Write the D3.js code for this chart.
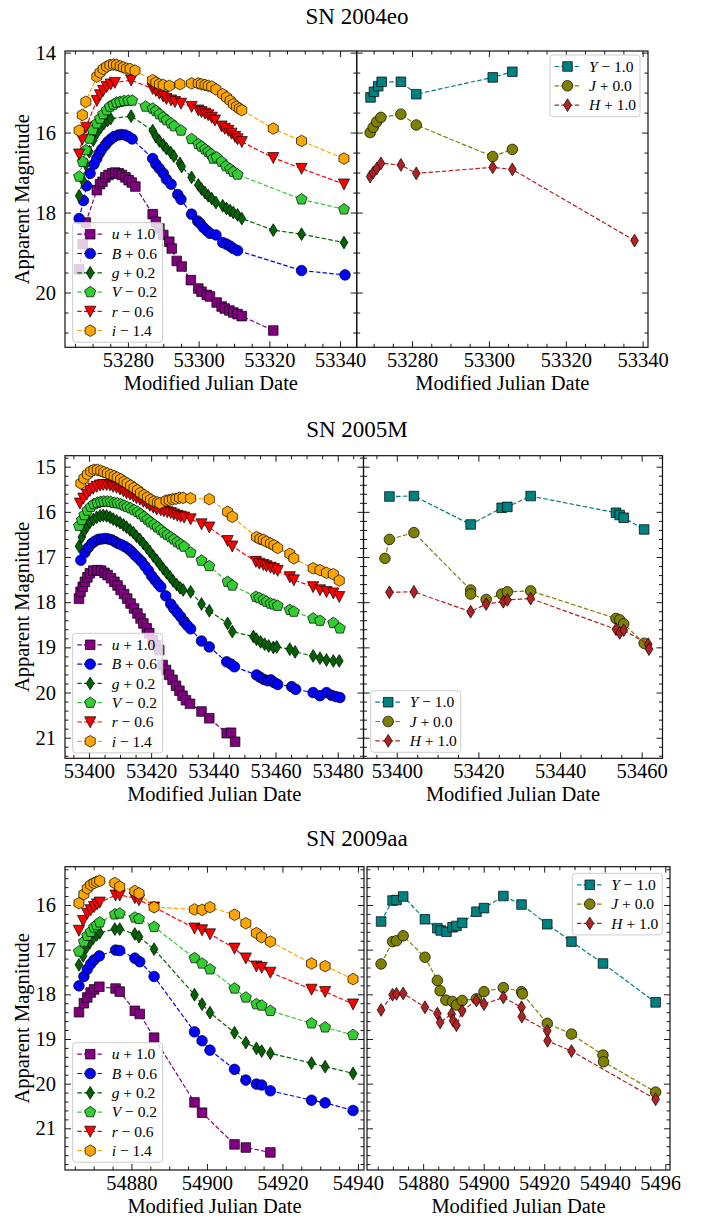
<!DOCTYPE html>
<html>
<head>
<meta charset="utf-8">
<script src="https://cdn.jsdelivr.net/npm/d3@7"></script>
<style>
  body { margin: 0; background: #fff; }
  svg text { font-family: "Liberation Serif", "Times New Roman", serif; fill: #000; }
</style>
</head>
<body>
<svg id="fig" width="707" height="1218"></svg>
<script>
// ---------------------------------------------------------------
// Photometry: [MJD, apparent magnitude] for each filter.
// Plotted with the per-filter offsets listed below.
// ---------------------------------------------------------------
const opticalBands = ["u", "B", "g", "V", "r", "i"];
const opticalOffsets = [1.0, 0.6, 0.2, -0.2, -0.6, -1.4];
const nirBands = ["Y", "J", "H"];
const nirOffsets = [-1.0, 0.0, 1.0];

// SN 2004eo
const sn2004eo_u = [[53266.2,18.42],[53267.2,17.79],[53268.1,17.25],[53271.2,16.44],[53272.1,16.29],[53272.8,16.23],[53273.6,16.12],[53274.5,16.06],[53275.5,16.02],[53276.4,16.00],[53277.4,16.02],[53278.3,16.06],[53279.3,16.12],[53280.2,16.19],[53281.1,16.25],[53282.1,16.35],[53287.0,17.04],[53287.9,17.23],[53288.9,17.40],[53290.0,17.56],[53291.7,17.73],[53292.4,17.90],[53293.8,18.21],[53295.2,18.35],[53297.8,18.69],[53299.9,18.90],[53300.8,18.98],[53302.3,19.06],[53303.2,19.10],[53305.1,19.25],[53306.5,19.35],[53307.4,19.40],[53308.7,19.45],[53309.8,19.50],[53311.0,19.54],[53312.2,19.59],[53321.1,19.95]];
const sn2004eo_B = [[53266.2,17.55],[53267.4,17.10],[53268.3,16.73],[53269.3,16.42],[53270.4,16.19],[53271.2,16.05],[53271.9,15.92],[53272.6,15.82],[53273.6,15.71],[53274.3,15.63],[53275.2,15.56],[53276.1,15.50],[53277.3,15.46],[53278.2,15.45],[53279.2,15.46],[53280.1,15.50],[53281.2,15.56],[53287.0,16.05],[53287.9,16.19],[53288.9,16.30],[53290.0,16.42],[53290.9,16.57],[53292.2,16.69],[53294.1,16.95],[53295.0,17.07],[53298.0,17.44],[53299.7,17.61],[53300.4,17.67],[53301.3,17.77],[53302.3,17.85],[53303.2,17.92],[53304.9,17.96],[53306.8,18.15],[53307.9,18.19],[53308.9,18.24],[53309.8,18.30],[53311.0,18.35],[53329.1,18.85],[53341.4,18.96]];
const sn2004eo_g = [[53266.2,17.38],[53267.2,16.99],[53268.1,16.59],[53269.1,16.28],[53270.2,15.99],[53271.3,15.80],[53272.3,15.67],[53273.2,15.57],[53274.2,15.50],[53275.1,15.45],[53280.9,15.39],[53287.0,15.75],[53287.9,15.90],[53288.9,16.01],[53290.0,16.11],[53290.9,16.20],[53292.1,16.30],[53293.0,16.39],[53294.7,16.57],[53295.2,16.65],[53298.0,16.92],[53299.9,17.11],[53300.8,17.21],[53301.8,17.30],[53302.7,17.38],[53303.7,17.45],[53304.9,17.55],[53306.8,17.63],[53307.9,17.70],[53308.9,17.75],[53309.8,17.80],[53311.0,17.86],[53312.2,17.95],[53321.1,18.24],[53329.1,18.34],[53341.1,18.55]];
const sn2004eo_V = [[53266.2,17.30],[53267.2,16.93],[53268.1,16.64],[53269.1,16.35],[53270.0,16.14],[53271.2,15.97],[53272.1,15.85],[53273.0,15.74],[53274.0,15.64],[53274.9,15.55],[53275.9,15.50],[53276.8,15.45],[53277.8,15.43],[53278.9,15.41],[53280.1,15.40],[53281.2,15.40],[53285.0,15.55],[53287.0,15.60],[53287.9,15.66],[53288.9,15.74],[53290.0,15.82],[53290.9,15.89],[53292.2,15.97],[53293.1,16.04],[53295.0,16.15],[53298.0,16.36],[53299.9,16.49],[53300.8,16.55],[53301.8,16.62],[53302.7,16.68],[53303.5,16.74],[53304.1,16.85],[53305.1,16.82],[53306.5,16.93],[53307.7,17.04],[53308.9,17.11],[53309.8,17.18],[53311.0,17.25],[53329.1,17.87],[53341.1,18.12]];
const sn2004eo_r = [[53266.2,17.14],[53267.1,16.77],[53268.1,16.47],[53271.2,15.80],[53272.1,15.66],[53273.0,15.55],[53274.0,15.45],[53275.1,15.39],[53276.3,15.35],[53280.9,15.29],[53287.0,15.50],[53287.9,15.55],[53288.9,15.62],[53290.0,15.69],[53290.9,15.75],[53292.2,15.79],[53293.3,15.83],[53295.0,15.87],[53298.0,15.95],[53299.9,16.04],[53300.8,16.08],[53301.8,16.12],[53302.7,16.16],[53303.7,16.22],[53304.6,16.29],[53306.5,16.44],[53307.4,16.50],[53308.4,16.55],[53309.3,16.62],[53310.3,16.70],[53311.0,16.76],[53312.2,16.83],[53321.1,17.23],[53329.1,17.50],[53341.1,17.89]];
const sn2004eo_i = [[53266.2,17.35],[53267.1,16.96],[53268.1,16.63],[53271.2,16.00],[53272.1,15.90],[53273.0,15.81],[53274.0,15.75],[53274.9,15.71],[53275.9,15.70],[53276.8,15.71],[53277.8,15.74],[53278.7,15.77],[53279.6,15.80],[53280.6,15.81],[53282.0,15.85],[53287.0,16.09],[53287.9,16.15],[53288.9,16.19],[53290.0,16.21],[53291.7,16.23],[53294.7,16.19],[53298.0,16.17],[53299.9,16.17],[53300.8,16.19],[53301.8,16.21],[53302.7,16.23],[53303.7,16.25],[53304.9,16.32],[53306.8,16.44],[53307.9,16.52],[53308.9,16.60],[53309.8,16.69],[53310.7,16.75],[53311.5,16.80],[53312.2,16.84],[53321.1,17.30],[53329.1,17.61],[53341.1,18.05]];
const sn2004eo_Y = [[53269.2,16.12],[53270.1,15.98],[53271.2,15.84],[53272.1,15.73],[53277.1,15.73],[53281.1,16.04],[53301.0,15.62],[53306.1,15.48]];
const sn2004eo_J = [[53269.1,16.00],[53269.9,15.87],[53270.8,15.73],[53271.9,15.62],[53277.1,15.54],[53281.1,15.81],[53301.0,16.60],[53306.1,16.42]];
const sn2004eo_H = [[53269.1,16.10],[53269.9,16.00],[53270.8,15.90],[53271.9,15.77],[53277.1,15.81],[53281.1,16.02],[53301.0,15.87],[53306.1,15.92],[53337.9,17.70]];

// SN 2005M
const sn2005M_u = [[53396.8,16.92],[53397.3,16.77],[53398.0,16.66],[53398.7,16.55],[53399.5,16.45],[53400.3,16.36],[53401.4,16.30],[53402.7,16.29],[53403.9,16.30],[53405.0,16.35],[53406.0,16.40],[53407.1,16.47],[53408.2,16.55],[53409.2,16.63],[53410.2,16.73],[53411.3,16.82],[53412.3,16.92],[53413.4,17.03],[53414.5,17.14],[53415.6,17.25],[53416.6,17.36],[53417.5,17.47],[53418.6,17.58],[53419.4,17.69],[53420.5,17.84],[53421.6,17.95],[53422.6,18.06],[53423.7,18.39],[53424.8,18.50],[53425.8,18.61],[53426.9,18.72],[53428.0,18.85],[53429.1,18.96],[53430.1,19.07],[53431.2,19.17],[53432.5,19.25],[53436.2,19.42],[53438.7,19.57],[53444.3,19.90],[53445.7,19.89],[53447.0,20.09]];
const sn2005M_B = [[53397.4,16.47],[53398.7,16.30],[53399.8,16.19],[53400.9,16.10],[53401.9,16.05],[53403.0,16.01],[53404.1,16.00],[53405.2,15.99],[53406.2,16.00],[53407.3,16.02],[53408.4,16.06],[53409.4,16.10],[53410.5,16.13],[53411.6,16.17],[53412.7,16.22],[53413.7,16.28],[53414.8,16.36],[53415.9,16.43],[53416.9,16.50],[53418.0,16.60],[53419.1,16.70],[53420.2,16.82],[53421.2,16.91],[53422.3,17.00],[53423.1,17.06],[53424.7,17.26],[53426.3,17.44],[53427.3,17.54],[53428.4,17.63],[53429.5,17.72],[53430.6,17.83],[53431.6,17.91],[53432.7,17.99],[53436.2,18.26],[53438.7,18.39],[53444.3,18.72],[53445.7,18.77],[53446.8,18.83],[53453.9,19.01],[53455.0,19.06],[53456.3,19.11],[53457.5,19.14],[53458.5,19.12],[53459.6,19.18],[53460.7,19.22],[53465.2,19.27],[53466.5,19.33],[53472.1,19.40],[53474.3,19.47],[53476.4,19.40],[53478.0,19.46],[53479.4,19.49],[53480.7,19.51]];
const sn2005M_g = [[53396.8,16.56],[53397.7,16.36],[53398.5,16.22],[53399.5,16.11],[53400.3,16.03],[53401.4,15.97],[53402.5,15.92],[53403.6,15.89],[53404.6,15.88],[53405.7,15.89],[53406.8,15.92],[53407.8,15.96],[53408.9,16.00],[53410.0,16.04],[53411.1,16.09],[53412.1,16.14],[53413.2,16.20],[53414.3,16.26],[53415.3,16.34],[53416.4,16.41],[53417.5,16.50],[53418.6,16.59],[53419.6,16.68],[53420.7,16.78],[53421.8,16.87],[53422.8,16.96],[53423.9,17.06],[53425.0,17.15],[53426.1,17.24],[53427.1,17.33],[53428.2,17.41],[53429.3,17.48],[53430.3,17.53],[53432.7,17.57],[53436.2,17.84],[53438.7,17.99],[53444.6,18.27],[53446.1,18.45],[53452.9,18.56],[53453.9,18.62],[53455.2,18.68],[53456.5,18.73],[53457.8,18.77],[53459.3,18.80],[53460.4,18.79],[53464.6,18.84],[53466.3,18.90],[53472.1,18.99],[53474.3,19.04],[53476.4,19.08],[53478.6,19.10],[53480.5,19.10]];
const sn2005M_V = [[53396.8,16.51],[53397.7,16.38],[53398.5,16.27],[53399.5,16.17],[53400.6,16.09],[53401.6,16.03],[53402.7,16.00],[53403.8,15.98],[53404.8,15.97],[53405.9,15.97],[53407.0,15.98],[53408.1,16.00],[53409.1,16.01],[53410.2,16.03],[53411.3,16.06],[53412.3,16.09],[53413.4,16.12],[53414.5,16.16],[53415.6,16.20],[53416.6,16.25],[53417.7,16.31],[53418.8,16.37],[53419.8,16.43],[53420.9,16.48],[53422.0,16.54],[53423.1,16.60],[53424.1,16.66],[53425.2,16.71],[53426.3,16.76],[53427.3,16.81],[53428.4,16.87],[53429.5,16.92],[53430.6,16.97],[53432.7,17.10],[53436.2,17.28],[53438.7,17.40],[53444.6,17.75],[53446.1,17.83],[53453.7,18.08],[53454.8,18.11],[53456.1,18.15],[53457.1,18.19],[53458.4,18.23],[53459.5,18.25],[53460.7,18.28],[53464.6,18.37],[53465.9,18.41],[53472.1,18.56],[53474.3,18.61],[53478.6,18.66],[53480.7,18.78]];
const sn2005M_r = [[53397.1,16.41],[53398.2,16.30],[53399.3,16.21],[53400.3,16.13],[53401.4,16.08],[53402.5,16.04],[53403.6,16.01],[53404.6,16.00],[53405.7,16.00],[53406.8,16.01],[53407.8,16.04],[53408.9,16.06],[53410.0,16.10],[53411.1,16.14],[53412.1,16.18],[53413.2,16.21],[53414.3,16.25],[53415.3,16.29],[53416.4,16.32],[53417.5,16.37],[53418.6,16.41],[53419.6,16.46],[53420.7,16.50],[53421.8,16.54],[53423.1,16.56],[53424.1,16.58],[53425.2,16.60],[53426.3,16.62],[53427.3,16.65],[53428.4,16.68],[53429.5,16.70],[53430.6,16.72],[53432.7,16.76],[53436.2,16.87],[53438.7,16.94],[53444.6,17.24],[53446.1,17.36],[53453.7,17.70],[53454.8,17.74],[53456.1,17.77],[53457.1,17.80],[53458.4,17.83],[53459.5,17.86],[53460.7,17.90],[53464.6,18.04],[53465.9,18.11],[53472.1,18.26],[53474.3,18.33],[53476.4,18.37],[53478.6,18.40],[53480.5,18.48]];
const sn2005M_i = [[53397.4,16.77],[53398.4,16.66],[53399.5,16.57],[53400.6,16.50],[53401.6,16.47],[53402.7,16.47],[53403.8,16.49],[53404.8,16.52],[53405.9,16.55],[53407.0,16.58],[53408.1,16.61],[53409.1,16.64],[53410.2,16.68],[53411.3,16.73],[53412.3,16.77],[53413.4,16.82],[53414.5,16.87],[53415.6,16.92],[53416.6,16.98],[53417.7,17.03],[53418.8,17.08],[53419.8,17.13],[53420.9,17.17],[53422.0,17.19],[53422.8,17.21],[53424.8,17.15],[53425.8,17.14],[53426.9,17.12],[53428.0,17.11],[53429.1,17.09],[53430.3,17.09],[53432.7,17.10],[53438.7,17.12],[53444.6,17.40],[53446.1,17.51],[53453.9,17.96],[53455.0,18.00],[53456.1,18.02],[53457.1,18.06],[53458.4,18.10],[53459.5,18.14],[53460.7,18.20],[53464.6,18.33],[53465.9,18.43],[53472.1,18.65],[53474.3,18.69],[53476.4,18.75],[53478.6,18.78],[53480.5,18.92]];
const sn2005M_Y = [[53398.2,16.66],[53404.2,16.65],[53418.1,17.28],[53425.7,16.91],[53427.1,16.89],[53432.8,16.65],[53453.7,17.02],[53454.6,17.07],[53455.6,17.13],[53460.6,17.39]];
const sn2005M_J = [[53397.1,17.03],[53398.2,16.61],[53404.2,16.46],[53418.1,17.73],[53418.1,17.82],[53421.9,17.94],[53425.7,17.82],[53427.1,17.77],[53432.8,17.75],[53453.7,18.36],[53454.6,18.39],[53455.6,18.48],[53460.6,18.91]];
const sn2005M_H = [[53398.2,16.78],[53404.2,16.77],[53418.1,17.21],[53421.9,17.04],[53426.1,16.99],[53427.1,16.95],[53432.8,16.92],[53453.7,17.60],[53454.6,17.68],[53455.6,17.62],[53461.6,17.93],[53461.8,18.04]];

// SN 2009aa
const sn2009aa_u = [[54866.1,17.40],[54867.4,17.20],[54868.3,17.07],[54869.2,16.96],[54870.1,16.89],[54871.5,16.83],[54875.8,16.87],[54876.9,16.94],[54880.9,17.37],[54882.2,17.44],[54886.0,17.97],[54896.7,19.42],[54898.7,19.65],[54907.3,20.36],[54910.3,20.43],[54916.8,20.54]];
const sn2009aa_B = [[54866.1,17.21],[54867.4,17.00],[54868.3,16.84],[54869.2,16.72],[54870.1,16.63],[54871.5,16.54],[54875.8,16.41],[54876.9,16.42],[54880.9,16.59],[54882.2,16.67],[54886.0,17.00],[54896.7,18.24],[54898.7,18.44],[54900.8,18.65],[54907.3,19.08],[54910.3,19.32],[54913.1,19.41],[54914.5,19.43],[54916.8,19.56],[54927.7,19.77],[54931.3,19.83],[54938.7,20.00]];
const sn2009aa_g = [[54866.1,17.14],[54867.2,16.94],[54868.1,16.75],[54869.0,16.64],[54869.9,16.54],[54870.8,16.47],[54871.6,16.42],[54875.6,16.34],[54876.9,16.34],[54880.9,16.45],[54882.0,16.51],[54886.0,16.79],[54896.7,17.81],[54898.7,18.02],[54900.8,18.21],[54907.3,18.66],[54910.3,18.88],[54913.1,19.01],[54914.5,19.07],[54916.8,19.12],[54927.7,19.34],[54931.3,19.42],[54938.7,19.57]];
const sn2009aa_V = [[54866.1,17.24],[54867.4,17.02],[54868.3,16.89],[54869.2,16.80],[54870.1,16.70],[54870.8,16.65],[54871.6,16.59],[54875.6,16.41],[54876.9,16.39],[54880.9,16.48],[54882.0,16.51],[54886.0,16.69],[54896.7,17.39],[54898.7,17.51],[54900.8,17.64],[54907.3,18.07],[54910.3,18.27],[54913.1,18.42],[54914.5,18.45],[54916.8,18.57],[54927.7,18.85],[54931.3,18.94],[54938.7,19.11]];
const sn2009aa_r = [[54866.1,17.17],[54867.2,16.95],[54868.3,16.79],[54869.2,16.71],[54870.1,16.64],[54870.9,16.58],[54871.6,16.54],[54875.8,16.38],[54876.9,16.38],[54880.9,16.44],[54882.0,16.49],[54886.0,16.65],[54896.7,17.12],[54898.7,17.16],[54900.8,17.25],[54907.3,17.57],[54910.3,17.79],[54913.1,17.97],[54914.5,18.00],[54916.8,18.11],[54927.7,18.49],[54931.3,18.54],[54938.7,18.82]];
const sn2009aa_i = [[54866.1,17.36],[54867.4,17.16],[54868.3,17.03],[54869.2,16.95],[54870.1,16.91],[54870.8,16.88],[54871.6,16.86],[54875.6,16.91],[54876.9,16.99],[54880.9,17.09],[54882.0,17.14],[54886.0,17.45],[54896.7,17.50],[54898.7,17.51],[54900.8,17.45],[54907.3,17.62],[54910.3,17.81],[54913.1,18.03],[54914.5,18.12],[54916.8,18.22],[54927.7,18.71],[54931.3,18.77],[54938.7,19.06]];
const sn2009aa_Y = [[54866.1,17.37],[54869.9,16.90],[54871.2,16.89],[54873.4,16.81],[54880.6,17.32],[54884.7,17.52],[54885.8,17.57],[54887.7,17.60],[54889.7,17.50],[54891.0,17.47],[54892.9,17.40],[54897.6,17.15],[54900.1,17.07],[54906.5,16.80],[54912.5,16.99],[54921.0,17.43],[54929.0,17.82],[54939.4,18.31],[54956.8,19.18]];
const sn2009aa_J = [[54866.1,17.32],[54869.9,16.82],[54871.2,16.80],[54873.4,16.69],[54880.6,17.17],[54884.7,17.69],[54885.6,17.92],[54887.5,18.13],[54889.7,18.16],[54891.0,18.24],[54892.9,18.14],[54897.6,18.10],[54900.1,17.94],[54906.5,17.85],[54912.5,17.94],[54912.8,17.99],[54921.0,18.65],[54929.0,18.89],[54939.4,19.36],[54939.6,19.51],[54956.8,20.19]];
const sn2009aa_H = [[54866.1,17.35],[54869.9,17.01],[54871.2,16.99],[54873.4,16.98],[54880.6,17.29],[54884.7,17.43],[54885.6,17.63],[54889.4,17.44],[54889.9,17.59],[54891.0,17.69],[54892.9,17.37],[54897.6,17.14],[54900.1,17.22],[54906.5,17.07],[54912.5,17.29],[54912.6,17.50],[54921.0,17.82],[54921.1,18.04],[54929.0,18.27],[54956.8,19.35]];

const supernovae = ["SN 2004eo", "SN 2005M", "SN 2009aa"];
const opticalData = [
  [sn2004eo_u, sn2004eo_B, sn2004eo_g, sn2004eo_V, sn2004eo_r, sn2004eo_i],
  [sn2005M_u, sn2005M_B, sn2005M_g, sn2005M_V, sn2005M_r, sn2005M_i],
  [sn2009aa_u, sn2009aa_B, sn2009aa_g, sn2009aa_V, sn2009aa_r, sn2009aa_i]
];
const nirData = [
  [sn2004eo_Y, sn2004eo_J, sn2004eo_H],
  [sn2005M_Y, sn2005M_J, sn2005M_H],
  [sn2009aa_Y, sn2009aa_J, sn2009aa_H]
];
const xLabel = "Modified Julian Date";
const yLabel = "Apparent Magnitude";

// ---------------------------------------------------------------
// Appearance
// ---------------------------------------------------------------
const bandStyle = {
  u: { color: "#800080", shape: "square" },
  B: { color: "#0000ff", shape: "circle" },
  g: { color: "#006400", shape: "thin_diamond" },
  V: { color: "#32cd32", shape: "pentagon" },
  r: { color: "#ff0000", shape: "triangle_down" },
  i: { color: "#ffa500", shape: "hexagon" },
  Y: { color: "#008080", shape: "square" },
  J: { color: "#808000", shape: "circle" },
  H: { color: "#b22222", shape: "thin_diamond" }
};

// Panel geometry for each row (pixels) and axis limits
const rows = [
  { titleY: 24, top: 51, bottom: 347.3, yDom: [13.96, 21.37], yMajor: 2, yMinor: 0.5,
    left:  { x0: 65,    x1: 356.7, xDom: [53262.2, 53344.7], legend: [72.7, 222.7] },
    right: { x0: 356.7, x1: 648,   xDom: [53265.6, 53341.4], legend: [550, 55] } },
  { titleY: 437, top: 455.7, bottom: 758.3, yDom: [14.757, 21.456], yMajor: 1, yMinor: 0.2,
    left:  { x0: 65,    x1: 363.5, xDom: [53392.3, 53488.3], legend: [72.7, 633.3] },
    right: { x0: 363.5, x1: 662.5, xDom: [53391.85, 53465.1], legend: [370.7, 690.7] } },
  { titleY: 846, top: 866.7, bottom: 1170, yDom: [15.143, 21.933], yMajor: 1, yMinor: 0.2,
    left:  { x0: 65,    x1: 364,   xDom: [54862.4, 54941.6], legend: [72.7, 1042.7] },
    right: { x0: 367,   x1: 670,   xDom: [54861.45, 54961.55], legend: [572.3, 873.3] } }
];

const tickFont = 20.5;
const labelFont = 20.5;

const svg = d3.select("#fig");
const defs = svg.append("defs");
defs.append("clipPath").attr("id", "figure-bounds")
  .append("rect").attr("x", 0).attr("y", 0).attr("width", 680.5).attr("height", 1218);
const fig = svg.append("g").attr("clip-path", "url(#figure-bounds)");

function markerPath(shape) {
  const poly = (n, r, rot) => {
    const pts = d3.range(n).map(k => {
      const a = rot + k * 2 * Math.PI / n;
      return [r * Math.cos(a), r * Math.sin(a)];
    });
    return "M" + pts.map(p => p[0].toFixed(2) + "," + p[1].toFixed(2)).join("L") + "Z";
  };
  switch (shape) {
    case "square": return "M-4.8,-4.8H4.8V4.8H-4.8Z";
    case "circle": return d3.symbol(d3.symbolCircle, Math.PI * 5.3 * 5.3)();
    case "thin_diamond": return "M0,-6.4L3.9,0L0,6.4L-3.9,0Z";
    case "pentagon": return poly(5, 5.8, -Math.PI / 2);
    case "triangle_down": return "M-5.6,-5.2L5.6,-5.2L0,5.8Z";
    case "hexagon": return poly(6, 5.8, -Math.PI / 2);
  }
}

function stepValues(lo, hi, step) {
  const k0 = Math.ceil(lo / step - 1e-9), k1 = Math.floor(hi / step + 1e-9);
  return d3.range(k0, k1 + 1).map(k => +(k * step).toFixed(6));
}

function styleAxis(g) {
  g.select(".domain").remove();
  g.selectAll(".tick line").attr("stroke", "#000").attr("stroke-width", 0.9);
  g.selectAll("text").attr("font-family", null).attr("font-size", tickFont).attr("fill", "#000");
}

let panelId = 0;
function drawPanel(row, p, series, bands, offsets, withYLabels) {
  const id = "panel-" + (panelId++);
  const x = d3.scaleLinear().domain(p.xDom).range([p.x0, p.x1]);
  const y = d3.scaleLinear().domain(row.yDom).range([row.top, row.bottom]);

  defs.append("clipPath").attr("id", id)
    .append("rect").attr("x", p.x0).attr("y", row.top)
    .attr("width", p.x1 - p.x0).attr("height", row.bottom - row.top);

  const plot = fig.append("g").attr("clip-path", `url(#${id})`);

  series.forEach((pts, k) => {
    const st = bandStyle[bands[k]];
    const off = offsets[k];
    const sorted = pts.slice().sort((a, b) => a[0] - b[0]);
    const line = d3.line().x(d => x(d[0])).y(d => y(d[1] + off));
    plot.append("path").attr("d", line(sorted))
      .attr("fill", "none").attr("stroke", st.color)
      .attr("stroke-width", 1.2).attr("stroke-dasharray", "4.5,2.2");
    plot.append("g").selectAll("path").data(sorted).join("path")
      .attr("d", markerPath(st.shape))
      .attr("transform", d => `translate(${x(d[0])},${y(d[1] + off)})`)
      .attr("fill", st.color).attr("stroke", "#000").attr("stroke-width", 0.7);
  });

  // ticks on all four sides, pointing inward
  const xMajor = stepValues(p.xDom[0], p.xDom[1], 20);
  const xMinor = stepValues(p.xDom[0], p.xDom[1], 5).filter(v => Math.abs(v / 20 - Math.round(v / 20)) > 1e-6);
  const yMajor = stepValues(row.yDom[0], row.yDom[1], row.yMajor);
  const yMinor = stepValues(row.yDom[0], row.yDom[1], row.yMinor)
    .filter(v => Math.abs(v / row.yMajor - Math.round(v / row.yMajor)) > 1e-6);

  const axes = fig.append("g");
  const fmt = d3.format("d");
  const blank = () => "";

  const addAxis = (gen, tr, vals, size, format, pad) => {
    const g = axes.append("g").attr("transform", tr)
      .call(gen.tickValues(vals).tickSize(-size).tickPadding(pad).tickFormat(format));
    styleAxis(g);
    return g;
  };

  addAxis(d3.axisBottom(x), `translate(0,${row.bottom})`, xMajor, 6, fmt, 5.5);
  addAxis(d3.axisBottom(x), `translate(0,${row.bottom})`, xMinor, 3.5, blank, 0);
  addAxis(d3.axisTop(x), `translate(0,${row.top})`, xMajor, 6, blank, 0);
  addAxis(d3.axisTop(x), `translate(0,${row.top})`, xMinor, 3.5, blank, 0);
  addAxis(d3.axisLeft(y), `translate(${p.x0},0)`, yMajor, 6, withYLabels ? fmt : blank, 9);
  addAxis(d3.axisLeft(y), `translate(${p.x0},0)`, yMinor, 3.5, blank, 0);
  addAxis(d3.axisRight(y), `translate(${p.x1},0)`, yMajor, 6, blank, 0);
  addAxis(d3.axisRight(y), `translate(${p.x1},0)`, yMinor, 3.5, blank, 0);

  axes.append("rect").attr("x", p.x0).attr("y", row.top)
    .attr("width", p.x1 - p.x0).attr("height", row.bottom - row.top)
    .attr("fill", "none").attr("stroke", "#111").attr("stroke-width", 1.2);

  axes.append("text").attr("x", (p.x0 + p.x1) / 2).attr("y", row.bottom + 43)
    .attr("text-anchor", "middle").attr("font-size", labelFont).text(xLabel);

  // legend
  const [lx, ly] = p.legend;
  const n = bands.length;
  const lg = fig.append("g");
  lg.append("rect").attr("x", lx).attr("y", ly).attr("width", 90)
    .attr("height", 23 + (n - 1) * 19.3).attr("rx", 3)
    .attr("fill", "#fff").attr("fill-opacity", 0.8)
    .attr("stroke", "#cccccc").attr("stroke-width", 1);
  bands.forEach((b, k) => {
    const st = bandStyle[b];
    const cy = ly + 11.5 + k * 19.3;
    lg.append("line").attr("x1", lx + 4.6).attr("x2", lx + 31.3)
      .attr("y1", cy).attr("y2", cy).attr("stroke", st.color)
      .attr("stroke-width", 1.2).attr("stroke-dasharray", "4.5,2.2");
    lg.append("path").attr("d", markerPath(st.shape))
      .attr("transform", `translate(${lx + 17.5},${cy})`)
      .attr("fill", st.color).attr("stroke", "#000").attr("stroke-width", 0.7);
    const off = offsets[k];
    const t = lg.append("text").attr("x", lx + 39).attr("y", cy + 5.2).attr("font-size", 15.5);
    t.append("tspan").attr("font-style", "italic").text(b);
    t.append("tspan").text(" " + (off < 0 ? "\u2212" : "+") + " " + Math.abs(off).toFixed(1));
  });
}

rows.forEach((row, r) => {
  fig.append("text").attr("x", 357).attr("y", row.titleY)
    .attr("text-anchor", "middle").attr("font-size", 23).text(supernovae[r]);
  fig.append("text")
    .attr("transform", `translate(29,${(row.top + row.bottom) / 2}) rotate(-90)`)
    .attr("text-anchor", "middle").attr("font-size", labelFont).text(yLabel);
  drawPanel(row, row.left, opticalData[r], opticalBands, opticalOffsets, true);
  drawPanel(row, row.right, nirData[r], nirBands, nirOffsets, false);
});
</script>
</body>
</html>
